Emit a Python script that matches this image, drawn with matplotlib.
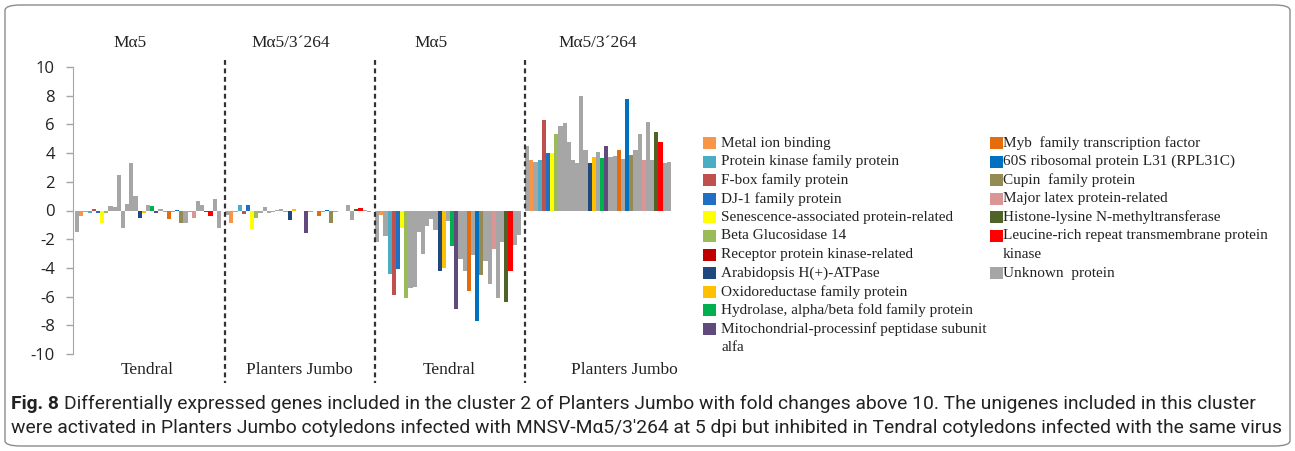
import numpy as np
import matplotlib
matplotlib.use("Agg")
import matplotlib.pyplot as plt
from matplotlib.patches import Rectangle, FancyBboxPatch

plt.rcParams["axes.unicode_minus"] = False

# gene categories and their colours
categories = [
    "Metal ion binding", "Protein kinase family protein", "F-box family protein",
    "DJ-1 family protein", "Senescence-associated protein-related", "Beta Glucosidase 14",
    "Receptor protein kinase-related", "Arabidopsis H(+)-ATPase", "Oxidoreductase family protein",
    "Hydrolase, alpha/beta fold family protein",
    "Mitochondrial-processinf peptidase subunit\nalfa",
    "Myb  family transcription factor", "60S ribosomal protein L31 (RPL31C)",
    "Cupin  family protein", "Major latex protein-related",
    "Histone-lysine N-methyltransferase",
    "Leucine-rich repeat transmembrane protein\nkinase",
    "Unknown  protein",
]
colors = [
    "#f79646", "#4bacc6", "#c0504d", "#1f6fc5", "#ffff00", "#9bbb59",
    "#c00000", "#1f497d", "#ffc000", "#00b050", "#604a7b",
    "#e46c0a", "#0070c0", "#948a54", "#d99694", "#4f6228", "#ff0000", "#a6a6a6",
]

# category index of each unigene, same order in every panel
U = 17
genes = [U, 0, U, 1, 2, 3, 4, 5, U, U, U, U, U, U, U, 7, 8, U, 9, 10,
         U, U, 11, U, 12, 13, U, U, 14, U, U, 15, 16, U, U]

tendral_ma5 = [-1.5, -0.35, -0.1, -0.2, 0.1, -0.2, -0.9, -0.2, 0.3, 0.25, 2.5, -1.2,
               0.45, 3.3, 1.0, -0.55, -0.2, 0.4, 0.3, -0.15, 0.1, -0.1, -0.6, -0.1,
               0.05, -0.9, -0.9, -0.1, -0.5, 0.65, 0.35, -0.1, -0.4, 0.8, -1.2]
pj_ma5 = [-0.3, -0.9, -0.1, 0.35, -0.25, 0.4, -1.3, -0.5, -0.2, 0.25, -0.2, -0.1,
          0.05, 0.1, -0.1, -0.65, 0.1, -0.05, -0.05, -1.55, -0.1, -0.05, -0.4, -0.1,
          0.05, -0.9, -0.1, -0.05, -0.05, 0.35, -0.65, 0.1, 0.15, 0.05, -0.1]
tendral_ma5_3264 = [-2.2, -0.3, -1.8, -4.4, -5.9, -4.1, -1.2, -6.1, -5.4, -5.35, -1.5,
                    -3.0, -1.1, -0.6, -1.35, -4.2, -4.0, -0.7, -2.5, -6.85, -3.4, -4.2,
                    -5.6, -3.1, -7.7, -4.5, -3.5, -5.1, -2.7, -6.1, -2.2, -6.4, -4.2,
                    -2.4, -1.7]
pj_ma5_3264 = [4.5, 3.5, 3.4, 3.5, 6.3, 4.0, 4.0, 5.35, 5.9, 6.1, 4.8, 3.5, 3.3, 8.0,
               4.2, 3.3, 3.7, 4.1, 3.65, 4.5, 3.7, 3.8, 4.2, 3.6, 7.75, 3.9, 4.2, 5.35,
               3.5, 6.2, 3.5, 5.5, 4.75, 3.3, 3.4]

panels = [tendral_ma5, pj_ma5, tendral_ma5_3264, pj_ma5_3264]
isolates = ["M\u03b15", "M\u03b15/3\u00b4264", "M\u03b15", "M\u03b15/3\u00b4264"]
cultivars = ["Tendral", "Planters Jumbo", "Tendral", "Planters Jumbo"]

caption_1 = ("Differentially expressed genes included in the cluster 2 of Planters Jumbo "
             "with fold changes above 10. The unigenes included in this cluster")
caption_2 = ("were activated in Planters Jumbo cotyledons infected with MNSV-M\u03b15/3\u2032264 "
             "at 5 dpi but inhibited in Tendral cotyledons infected with the same virus")

W, H = 1295, 451
fig = plt.figure(figsize=(W / 100, H / 100), dpi=100)

def fx(px):
    return px / W

def fy(py):
    return 1 - py / H

serif = "Liberation Serif"
ax = fig.add_axes([fx(73), fy(354), fx(600), (354 - 67) / H])

step = 36
bar_colors = [colors[g] for g in genes]
for k, vals in enumerate(panels):
    x = k * step + np.arange(len(vals))
    ax.bar(x, vals, width=1.0, color=bar_colors, linewidth=0)

ax.set_xlim(-1, 143)
ax.set_ylim(-10, 10)
ax.set_yticks(np.arange(-10, 11, 2))
ax.set_xticks([])
for s in ["top", "right", "bottom"]:
    ax.spines[s].set_visible(False)
ax.spines["left"].set_color("#a6a6a6")
ax.tick_params(axis="y", colors="#a6a6a6", length=5, width=1, labelsize=12,
               labelcolor="#222222", pad=8)
for lab in ax.get_yticklabels():
    lab.set_family("Open Sans")

# dashed separators between panels
for k in range(1, 4):
    ax.plot([k * step - 0.5, k * step - 0.5], [10.5, -12.0], ls=(0, (2.2, 1.6)),
            color="#333333", lw=1.6, clip_on=False)

top_x = [12.7, 51.3, 84.9, 124.9]
bot_x = [16.7, 53.4, 89.2, 131.4]
for k in range(4):
    ax.text(top_x[k], 11.7, isolates[k], ha="center", va="center",
            fontsize=12.5, family=serif, color="#222222")
    ax.text(bot_x[k], -11.1, cultivars[k], ha="center", va="center",
            fontsize=12.5, family=serif, color="#222222")

# legend in two columns
row = 18.6
col1 = list(range(11))
col2 = list(range(11, 18))
for col, x0, xt in [(col1, 703, 721), (col2, 990, 1003)]:
    y = 143
    for i in col:
        fig.add_artist(Rectangle((fx(x0), fy(y + 6)), 13 / W, 12 / H,
                                 transform=fig.transFigure, color=colors[i], lw=0))
        lines = categories[i].split("\n")
        for j, ln in enumerate(lines):
            fig.text(fx(xt), fy(y + j * row), ln, ha="left", va="center",
                     fontsize=11, family=serif, color="#222222")
        y += row * len(lines)

# caption box
fig.add_artist(FancyBboxPatch((fx(5), fy(446)), fx(1285), (446 - 5) / H,
                              boxstyle="round,pad=0,rounding_size=0.012",
                              transform=fig.transFigure, fill=False,
                              ec="#8c8c8c", lw=1))

# caption, sized so the second line spans the box
cap_font = "Roboto"
t2 = fig.text(fx(11), fy(428), caption_2, ha="left", va="center", fontsize=13,
              family=cap_font, color="#222222")
fig.canvas.draw()
w2 = t2.get_window_extent().width
size = 13 * (1272 / w2)
t2.set_fontsize(size)
t1 = fig.text(fx(11), fy(404), "Fig. 8", ha="left", va="center", fontsize=size,
              family=cap_font, weight="bold", color="#222222")
fig.canvas.draw()
bb = t1.get_window_extent()
fig.text(fx(bb.x1 + 5), fy(404), caption_1, ha="left", va="center", fontsize=size,
         family=cap_font, color="#222222")

fig.savefig("out.png", dpi=100)
